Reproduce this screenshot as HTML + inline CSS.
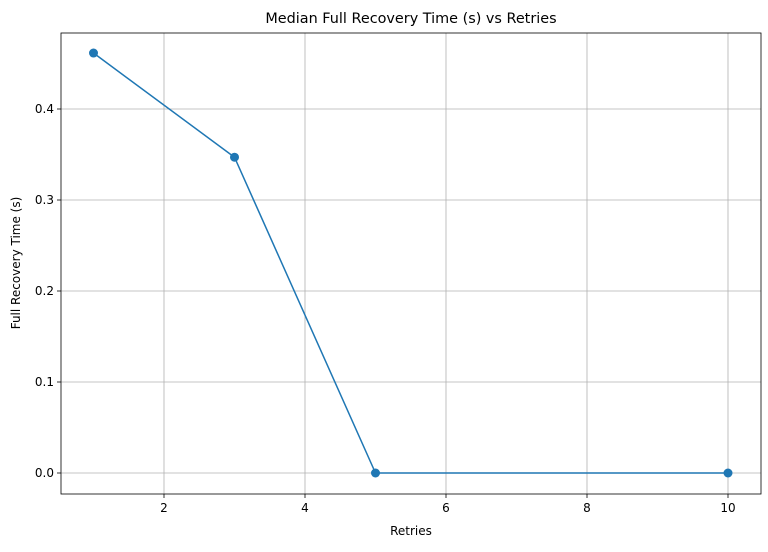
<!DOCTYPE html>
<html><head><meta charset="utf-8"><style>
body{margin:0;background:#fff;font-family:"Liberation Sans","DejaVu Sans",sans-serif}
svg text{font-family:"DejaVu Sans","Liberation Sans",sans-serif}
</style></head><body>
<svg id="chart" width="768" height="547" xmlns="http://www.w3.org/2000/svg"></svg>
<script>
const retries=[1,3,5,10];
const recoveryTimes=[0.4615,0.347,0,0];
const xTicks=[2,4,6,8,10];
const yTicks=[0,0.1,0.2,0.3,0.4];
const yTickLabels=["0.0","0.1","0.2","0.3","0.4"];
const L=61,R=761,T=33,B=494;
const xs=v=>93.5+(v-1)*70.5;
const ys=v=>473-v*910;
const svg=document.getElementById('chart');
const NS='http://www.w3.org/2000/svg';
function mk(tag,attrs,parent){const e=document.createElementNS(NS,tag);for(const k in attrs)e.setAttribute(k,attrs[k]);(parent||svg).appendChild(e);return e;}
const grid=mk('g',{});


xTicks.forEach(t=>{const x=xs(t);
mk('line',{x1:x,x2:x,y1:T,y2:B,stroke:'#b0b0b0','stroke-width':0.8},grid);
mk('line',{x1:x,x2:x,y1:B,y2:B+4,stroke:'#000','stroke-width':0.8});
const tx=mk('text',{x:x,y:B+18,'font-size':12,'text-anchor':'middle'});tx.textContent=t;

});
yTicks.forEach((t,i)=>{const y=ys(t);
mk('line',{x1:L,x2:R,y1:y,y2:y,stroke:'#b0b0b0','stroke-width':0.8},grid);
mk('line',{x1:L-4,x2:L,y1:y,y2:y,stroke:'#000','stroke-width':0.8});
const tx=mk('text',{x:L-7,y:y+4,'font-size':12,'text-anchor':'end'});tx.textContent=yTickLabels[i];

});
const frame=mk('rect',{x:L,y:T,width:R-L,height:B-T,fill:'none',stroke:'#000','stroke-width':0.8});


const line=mk('polyline',{points:retries.map((r,i)=>xs(r)+','+ys(recoveryTimes[i])).join(' '),fill:'none',stroke:'#1f77b4','stroke-width':1.5});


retries.forEach((r,i)=>{const c=mk('circle',{cx:xs(r),cy:ys(recoveryTimes[i]),r:4.5,fill:'#1f77b4'});

});
const title=mk('text',{x:411,y:23,'font-size':14.4,'text-anchor':'middle'});title.textContent='Median Full Recovery Time (s) vs Retries';


const xl=mk('text',{x:411,y:535,'font-size':12,'text-anchor':'middle'});xl.textContent='Retries';


const yl=mk('text',{x:0,y:0,'font-size':12,'text-anchor':'middle',transform:'translate(20,263) rotate(-90)'});yl.textContent='Full Recovery Time (s)';


</script>
</body></html>
